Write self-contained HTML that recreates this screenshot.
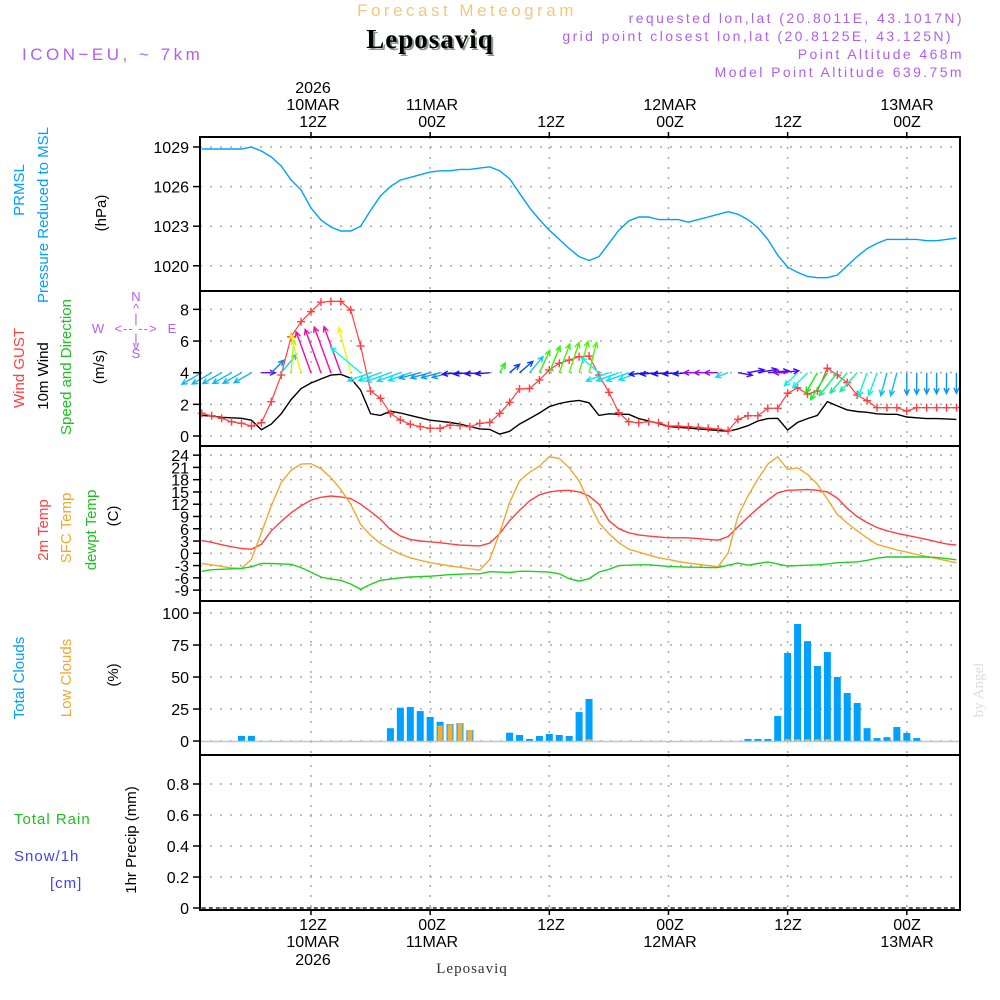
<!DOCTYPE html>
<html><head><meta charset="utf-8"><title>Leposaviq meteogram</title>
<style>
html,body{margin:0;padding:0;background:#fff;}
svg{display:block;font-family:"Liberation Sans",sans-serif;}
.tk{font-size:16px;fill:#000;}
.lab{font-size:15px;}
</style></head><body>
<svg id="chart" width="1000" height="1000" viewBox="0 0 1000 1000">
<rect x="0" y="0" width="1000" height="1000" fill="#fff"/>
<text x="467" y="16" text-anchor="middle" font-size="17" fill="#f5c878" letter-spacing="3.5">Forecast Meteogram</text>
<text x="432" y="50" text-anchor="middle" font-size="27" font-weight="bold" font-family="Liberation Serif,serif" fill="#8a9a8a" letter-spacing="1">Leposaviq</text>
<text x="430" y="48" text-anchor="middle" font-size="27" font-weight="bold" font-family="Liberation Serif,serif" fill="#000" letter-spacing="1">Leposaviq</text>
<text x="22" y="60" font-size="17" fill="#b060f0" letter-spacing="3.5">ICON−EU, ~ 7km</text>
<g font-size="14" fill="#b060f0" text-anchor="end" letter-spacing="2.4">
<text x="964" y="23">requested lon,lat (20.8011E, 43.1017N)</text>
<text x="953" y="41">grid point closest lon,lat (20.8125E, 43.125N)</text>
<text x="964" y="59">Point Altitude 468m</text>
<text x="964" y="77">Model Point Altitude 639.75m</text>
</g>
<g font-size="16" fill="#000" text-anchor="middle">
<text x="313" y="93">2026</text><text x="313" y="110">10MAR</text><text x="313" y="127">12Z</text>
<text x="432" y="110">11MAR</text><text x="432" y="127">00Z</text>
<text x="551" y="127">12Z</text>
<text x="670" y="110">12MAR</text><text x="670" y="127">00Z</text>
<text x="788" y="127">12Z</text>
<text x="907" y="110">13MAR</text><text x="907" y="127">00Z</text>
</g>
<g font-size="16" fill="#000" text-anchor="middle">
<text x="313" y="930">12Z</text><text x="313" y="947">10MAR</text><text x="313" y="965">2026</text>
<text x="432" y="930">00Z</text><text x="432" y="947">11MAR</text>
<text x="551" y="930">12Z</text>
<text x="670" y="930">00Z</text><text x="670" y="947">12MAR</text>
<text x="788" y="930">12Z</text>
<text x="907" y="930">00Z</text><text x="907" y="947">13MAR</text>
</g>
<text x="472" y="973" text-anchor="middle" font-size="15" font-family="Liberation Serif,serif" fill="#333" letter-spacing="1">Leposaviq</text>
<text transform="translate(983,690) rotate(-90)" text-anchor="middle" font-size="15" font-family="Liberation Serif,serif" fill="#ddd">by Angel</text>

<g class="lab">
<text transform="translate(24,190) rotate(-90)" text-anchor="middle" fill="#00a0ff">PRMSL</text>
<text transform="translate(48,215) rotate(-90)" text-anchor="middle" fill="#00a0ff">Pressure Reduced to MSL</text>
<text transform="translate(106,213) rotate(-90)" text-anchor="middle" fill="#000">(hPa)</text>
</g>
<g class="lab">
<text transform="translate(24,368) rotate(-90)" text-anchor="middle" fill="#ff4040">Wind GUST</text>
<text transform="translate(48,376) rotate(-90)" text-anchor="middle" fill="#000">10m Wind</text>
<text transform="translate(71,367) rotate(-90)" text-anchor="middle" fill="#20c020">Speed and Direction</text>
<text transform="translate(104,367) rotate(-90)" text-anchor="middle" fill="#000">(m/s)</text>
</g>
<g font-size="13" fill="#b060f0" text-anchor="middle">
<text x="136" y="301">N</text><text x="136" y="313">^</text><text x="136" y="323">|</text>
<text x="98" y="333">W</text><text x="136" y="333" letter-spacing="1">&lt;-- --&gt;</text><text x="172" y="333">E</text>
<text x="136" y="343">|</text><text x="136" y="350">v</text><text x="136" y="358">S</text>
</g>
<g class="lab">
<text transform="translate(48,530) rotate(-90)" text-anchor="middle" fill="#ff4040">2m Temp</text>
<text transform="translate(71,528) rotate(-90)" text-anchor="middle" fill="#f0a830">SFC Temp</text>
<text transform="translate(96,530) rotate(-90)" text-anchor="middle" fill="#20c020">dewpt Temp</text>
<text transform="translate(118,516) rotate(-90)" text-anchor="middle" fill="#000">(C)</text>
</g>
<g class="lab">
<text transform="translate(24,678) rotate(-90)" text-anchor="middle" fill="#00a0ff">Total Clouds</text>
<text transform="translate(71,678) rotate(-90)" text-anchor="middle" fill="#f0a830">Low Clouds</text>
<text transform="translate(118,675) rotate(-90)" text-anchor="middle" fill="#000">(%)</text>
</g>
<g class="lab">
<text x="14" y="824" fill="#20c020" letter-spacing="1">Total  Rain</text>
<text x="14" y="861" fill="#4040ff" letter-spacing="1">Snow/1h</text>
<text x="50" y="888" fill="#4040ff" letter-spacing="1">[cm]</text>
<text transform="translate(136,840) rotate(-90)" text-anchor="middle" fill="#000">1hr Precip (mm)</text>
</g>
<g id="grid"></g>
<g id="marks"></g>
<g id="frame"></g>
</svg>
<script>
// hourly data, h = 1..77 (hours from 00Z 10MAR)
const pressure = [1028.85,1028.85,1028.85,1028.85,1028.85,1029.0,1028.7,1028.24,1027.56,1026.5,1025.74,1024.38,1023.47,1022.94,1022.64,1022.64,1023.0,1024.2,1025.3,1026.0,1026.5,1026.7,1026.9,1027.1,1027.2,1027.2,1027.3,1027.3,1027.4,1027.5,1027.2,1026.6,1025.5,1024.4,1023.5,1022.7,1022.0,1021.3,1020.7,1020.4,1020.7,1021.7,1022.7,1023.4,1023.7,1023.7,1023.5,1023.5,1023.5,1023.3,1023.5,1023.7,1023.9,1024.1,1023.9,1023.5,1022.9,1022.0,1020.8,1019.9,1019.5,1019.2,1019.1,1019.1,1019.3,1020.0,1020.7,1021.3,1021.7,1022.0,1022.0,1022.0,1022.0,1021.9,1021.9,1022.0,1022.1];
const gust = [1.43,1.28,1.12,0.9,0.8,0.63,0.84,2.17,3.85,6.27,7.22,7.85,8.45,8.5,8.5,7.96,5.69,2.84,2.38,1.43,1.01,0.74,0.59,0.49,0.49,0.69,0.65,0.59,0.8,0.86,1.43,2.13,2.97,3.0,3.54,4.17,4.59,4.8,5.01,5.05,3.85,2.76,1.47,0.9,0.84,0.9,0.84,0.63,0.63,0.59,0.55,0.49,0.44,0.34,1.05,1.28,1.28,1.75,1.75,2.7,3.05,2.65,2.84,4.28,3.85,3.37,2.59,2.23,1.79,1.79,1.79,1.58,1.79,1.79,1.79,1.79,1.79];
const wind10m = [1.3,1.25,1.18,1.15,1.12,1.0,0.4,0.75,1.4,2.3,3.0,3.35,3.6,3.85,3.9,3.65,2.9,1.4,1.3,1.57,1.45,1.3,1.15,1.0,0.93,0.85,0.75,0.6,0.45,0.42,0.12,0.3,0.75,1.1,1.45,1.85,2.05,2.17,2.25,2.1,1.3,1.4,1.37,1.37,1.1,0.95,0.8,0.6,0.55,0.5,0.45,0.4,0.35,0.3,0.45,0.65,0.95,1.1,1.12,0.38,0.86,1.1,1.3,2.17,1.9,1.65,1.55,1.5,1.4,1.37,1.37,1.2,1.15,1.1,1.1,1.08,1.05];
const windDirTo = [240,240,240,240,240,240,90,45,40,5,345,340,340,340,340,345,310,250,250,250,250,250,255,255,255,255,265,265,265,265,30,50,50,40,25,22,20,18,16,14,310,250,250,250,250,265,265,265,265,265,270,270,270,250,100,80,80,85,85,270,225,225,210,212,218,220,222,200,200,195,195,180,180,180,180,180,180];
const temp2m = [3.1,2.7,2.1,1.6,1.2,1.0,2.2,5.5,7.8,9.9,11.6,13.0,13.7,14.0,13.8,13.4,12.0,10.2,8.3,5.8,4.2,3.4,3.0,2.8,2.6,2.3,2.0,1.9,1.8,2.5,4.8,8.0,10.5,12.8,14.3,15.0,15.3,15.4,15.0,14.0,12.0,8.0,6.0,5.0,4.5,4.2,4.0,3.8,3.8,3.8,3.6,3.4,3.2,4.1,6.5,8.8,11.0,13.0,14.8,15.4,15.5,15.6,15.4,15.0,13.5,11.0,9.0,7.5,6.3,5.5,4.9,4.4,3.9,3.4,2.8,2.3,2.0];
const tempSfc = [-2.5,-2.8,-3.2,-3.6,-3.7,-1.5,5.0,11.6,17.3,20.3,21.8,21.9,20.7,18.5,15.6,12.0,7.1,4.4,2.4,1.0,-0.2,-1.1,-1.7,-2.3,-2.7,-3.1,-3.4,-3.8,-4.1,-1.5,5.0,12.4,17.7,19.8,21.3,23.6,23.2,20.9,17.7,12.4,7.5,4.8,2.6,1.0,0.3,-0.4,-1.1,-1.5,-2.0,-2.4,-2.7,-3.0,-3.3,0.1,9.1,14.0,18.1,21.8,23.6,20.5,20.9,19.3,16.9,13.2,9.5,7.4,5.5,3.8,2.2,1.5,0.8,0.3,-0.3,-0.8,-1.3,-1.8,-2.3];
const dewpt = [-4.4,-4.0,-3.9,-3.8,-3.7,-3.3,-2.5,-2.5,-2.6,-2.7,-3.5,-4.6,-5.8,-6.3,-6.6,-7.5,-8.8,-7.6,-6.6,-6.3,-6.0,-5.8,-5.7,-5.6,-5.4,-5.2,-5.1,-5.0,-5.0,-4.5,-4.6,-4.7,-4.4,-4.4,-4.5,-4.6,-5.0,-6.2,-6.8,-6.2,-4.6,-3.9,-3.0,-2.9,-2.8,-2.8,-3.0,-3.2,-3.3,-3.4,-3.4,-3.5,-3.5,-2.9,-2.4,-2.9,-2.5,-2.1,-2.6,-3.1,-3.0,-2.9,-2.8,-2.6,-2.3,-2.2,-2.1,-1.7,-1.2,-0.9,-0.9,-0.9,-0.9,-0.9,-1.0,-1.3,-1.6];
const totalClouds = [0,0,0,0,4,4,0,0,0,0,0,0,0,0,0,0,0,0,0,10,26,26.6,23.4,18.8,15,13.3,14,8.6,0,0,0,6.5,4.7,1.6,3.9,5.5,4.7,3.9,22.6,32.8,0,0,0,0,0,0,0,0,0,0,0,0,0,0,0,1.6,1.6,1.6,19.5,68.8,91.4,78,58.6,69.5,50,37.5,29.7,10,2.3,3,10.9,6.3,2.3,0,0,0,0];
const lowClouds = [0,0,0,0,0,0,0,0,0,0,0,0,0,0,0,0,0,0,0,0,0,0,0,0,12,13,14,8.6,0,0,0,0,0,0,0,0,0,0,0,1.5,0,0,0,0,0,0,0,0,0,0,0,0,0,0,0,0,0,0,0,1.5,1.5,1.5,1.5,1.5,0,0,0,0,0,0,0,0,0,0,0,0,0];
const precip = new Array(77).fill(0);
const pressureTicks = [1020,1023,1026,1029];
const windTicks = [0,2,4,6,8];
const tempTicks = [24,21,18,15,12,9,6,3,0,-3,-6,-9];
const cloudTicks = [0,25,50,75,100];
const precipTicks = ["0","0.2","0.4","0.6","0.8"];
const timeGridHours = [12,24,36,48,60,72];

const NS = "http://www.w3.org/2000/svg";
const X0 = 200, X1 = 960;
function xOf(h){ return 311 + (h-12)*9.93; }
function yP(v){ return 147 + (1029 - v)*13.2; }
function yW(v){ return 436 - v*15.83; }
function yT(v){ return 553.3 - v*4.09; }
function yC(v){ return 741 - v*1.28; }
function yR(v){ return 908 - v*155; }
function mk(tag, attrs, parent){
  const e = document.createElementNS(NS, tag);
  for (const k in attrs) e.setAttribute(k, attrs[k]);
  parent.appendChild(e); return e;
}
const grid = document.getElementById('grid');
const marks = document.getElementById('marks');
const frame = document.getElementById('frame');
const panels = [[137,291],[291,446],[446,601],[601,755],[755,910]];

timeGridHours.forEach(h => {
  panels.forEach(p => {
    const l = mk('line',{x1:xOf(h),x2:xOf(h),y1:p[0],y2:p[1],stroke:'#aaa','stroke-width':1.5,'stroke-dasharray':'2,8'},grid);
    
    
  });
  [137,910].forEach(y=>{
    const t = mk('line',{x1:xOf(h),x2:xOf(h),y1:y,y2:y+(y===137?-5:5),stroke:'#000','stroke-width':1.5},frame);
    
    
  });
});
function yAxis(ticks, yf){
  ticks.forEach((v,i)=>{
    const y = yf(typeof v === 'string' ? parseFloat(v) : v);
    const g = mk('line',{x1:X0,x2:X1,y1:y,y2:y,stroke:'#aaa','stroke-width':1.5,'stroke-dasharray':'2,8'},grid);
    
    
    const t = mk('line',{x1:X0-7,x2:X0,y1:y,y2:y,stroke:'#000','stroke-width':1.5},frame);
    
    
    const tx = mk('text',{x:X0-11,y:y+6,'text-anchor':'end','class':'tk'},frame);
    tx.textContent = String(v);
    
    
  });
}
yAxis(pressureTicks,yP); yAxis(windTicks,yW); yAxis(tempTicks,yT); yAxis(cloudTicks,yC); yAxis(precipTicks,yR);

function line(arr, yf, color, name, w, dash){
  const d = arr.map((v,i)=>(i?'L':'M')+xOf(i+1).toFixed(1)+','+yf(v).toFixed(1)).join(' ');
  const attrs = {d:d,fill:'none',stroke:color,'stroke-width':w||1.4};
  if (dash) attrs['stroke-dasharray'] = dash;
  const p = mk('path',attrs,marks);
  
  
  return p;
}
totalClouds.forEach((v,i)=>{
  const x = xOf(i+1);
  if (v>0){
    const r = mk('rect',{x:x-3.5,y:yC(v),width:7,height:yC(0)-yC(v),fill:'#00a0ff'},marks);
    
    
  }
});
lowClouds.forEach((v,i)=>{
  const x = xOf(i+1);
  if (v>0){
    const r = mk('rect',{x:x-2.5,y:yC(v),width:5,height:yC(0)-yC(v),fill:'#f0b030'},marks);
    
    
  }
});
const cb = mk('line',{x1:X0,x2:X1,y1:yC(0)+0.5,y2:yC(0)+0.5,stroke:'#b8c8d8','stroke-width':1.5},marks);


line(precip, yR, '#000', 'precip-line', 1.2, '4,3');

line(pressure, yP, '#00a0ff', 'pressure-line', 1.4);
line(wind10m, yW, '#000', 'wind-speed-line', 1.4);
line(gust, yW, '#ff4040', 'gust-line', 1.2);
gust.forEach((v,i)=>{
  const x = xOf(i+1), y = yW(v);
  const c = mk('path',{d:`M${x-4},${y}H${x+4}M${x},${y-4}V${y+4}`,stroke:'#ff4040','stroke-width':1.4},marks);
  
  
});
const hueAnchors = [[0,58],[10,95],[30,115],[40,190],[50,225],[90,262],[180,205],[195,195],[205,150],[210,120],[222,160],[225,180],[240,195],[250,185],[260,220],[265,245],[270,275],[310,178],[340,320],[345,60],[360,58]];
function hueFor(d){
  for (let i=1;i<hueAnchors.length;i++){
    const a=hueAnchors[i-1], b=hueAnchors[i];
    if (d<=b[0]){ const t=(d-a[0])/((b[0]-a[0])||1); return a[1]+(b[1]-a[1])*t; }
  }
  return 58;
}
windDirTo.forEach((d,i)=>{
  const x0 = xOf(i+1), y0 = yW(4);
  const L = 10 + 10*wind10m[i];
  const rad = d*Math.PI/180;
  const x1 = x0 + L*Math.sin(rad), y1 = y0 - L*Math.cos(rad);
  const hl = 6, a1 = rad + Math.PI - 0.45, a2 = rad + Math.PI + 0.45;
  const col = `hsl(${hueFor(d).toFixed(0)},90%,50%)`;
  const p = mk('path',{d:`M${x0.toFixed(1)},${y0.toFixed(1)}L${x1.toFixed(1)},${y1.toFixed(1)}M${(x1+hl*Math.sin(a1)).toFixed(1)},${(y1-hl*Math.cos(a1)).toFixed(1)}L${x1.toFixed(1)},${y1.toFixed(1)}L${(x1+hl*Math.sin(a2)).toFixed(1)},${(y1-hl*Math.cos(a2)).toFixed(1)}`,stroke:col,'stroke-width':1.4,fill:'none'},marks);
  
  
});
line(temp2m, yT, '#ff4040', 'temp-2m-line', 1.4);
line(tempSfc, yT, '#f0a830', 'temp-sfc-line', 1.4);
line(dewpt, yT, '#20d020', 'dewpoint-line', 1.4);

panels.forEach(p=>{
  const r = mk('rect',{x:X0,y:p[0],width:X1-X0,height:p[1]-p[0],fill:'none',stroke:'#000','stroke-width':2},frame);
  
  
});
</script>
</body></html>
